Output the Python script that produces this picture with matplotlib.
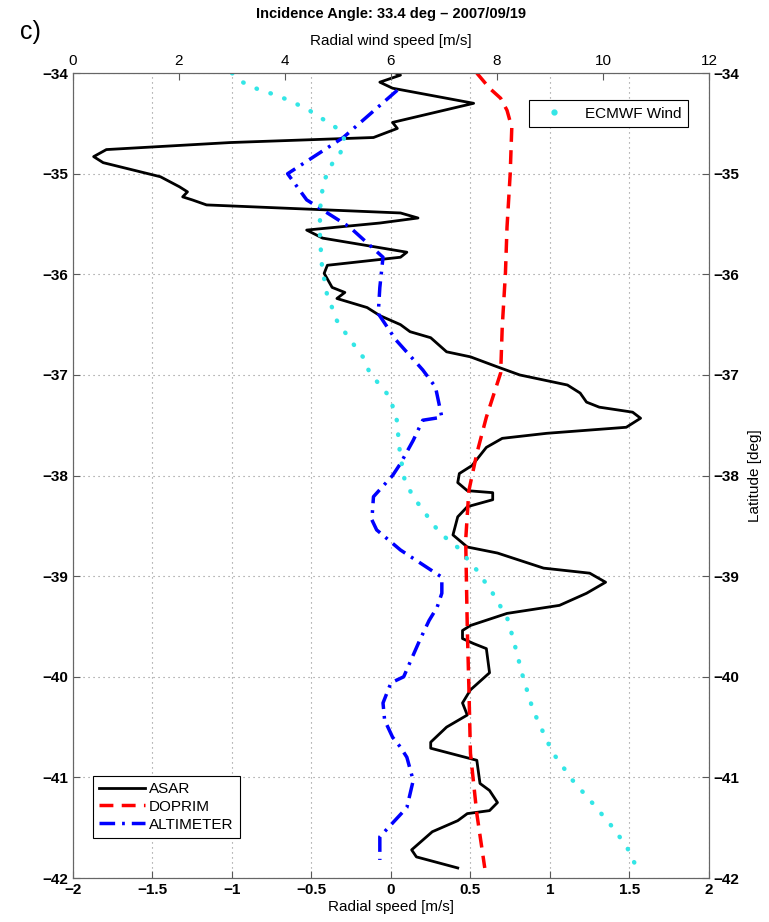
import numpy as np
import matplotlib
matplotlib.use('Agg')
import matplotlib.pyplot as plt
from matplotlib.lines import Line2D

plt.rcParams['font.family'] = ['Liberation Sans', 'DejaVu Sans']

# ASAR radial speed [m/s] vs latitude
asar_lat = [-34.00, -34.02, -34.09, -34.15, -34.30, -34.49, -34.55, -34.64, -34.69, -34.76,
            -34.83, -34.89, -35.03, -35.13, -35.18, -35.23, -35.26, -35.31, -35.39, -35.44,
            -35.49, -35.56, -35.64, -35.78, -35.83, -35.91, -35.99, -36.13, -36.18, -36.24,
            -36.33, -36.41, -36.50, -36.57, -36.63, -36.77, -36.82, -36.92, -37.00, -37.10,
            -37.18, -37.27, -37.32, -37.37, -37.43, -37.52, -37.58, -37.63, -37.72, -37.80,
            -37.90, -37.98, -38.07, -38.15, -38.17, -38.24, -38.31, -38.41, -38.59, -38.71,
            -38.77, -38.92, -38.97, -39.06, -39.17, -39.29, -39.37, -39.49, -39.54, -39.62,
            -39.67, -39.72, -39.96, -40.13, -40.26, -40.38, -40.50, -40.65, -40.71, -40.83,
            -41.06, -41.13, -41.25, -41.33, -41.36, -41.43, -41.54, -41.72, -41.79, -41.90]
asar_val = [0.03, 0.06, -0.07, 0.01, 0.52, 0.01, 0.04, -0.11, -1.01, -1.79,
            -1.87, -1.81, -1.45, -1.33, -1.28, -1.31, -1.25, -1.16, 0.06, 0.17,
            -0.07, -0.53, -0.43, 0.10, 0.06, -0.40, -0.42, -0.37, -0.29, -0.34,
            -0.15, -0.07, 0.06, 0.12, 0.25, 0.35, 0.50, 0.67, 0.81, 1.11,
            1.19, 1.23, 1.31, 1.52, 1.57, 1.48, 0.98, 0.70, 0.60, 0.56,
            0.51, 0.43, 0.42, 0.48, 0.64, 0.64, 0.48, 0.42, 0.39, 0.48,
            0.67, 0.96, 1.25, 1.35, 1.23, 1.06, 0.73, 0.50, 0.45, 0.45,
            0.52, 0.60, 0.62, 0.50, 0.45, 0.48, 0.35, 0.25, 0.25, 0.54,
            0.56, 0.62, 0.67, 0.62, 0.48, 0.42, 0.26, 0.13, 0.16, 0.42]

# DOPRIM
dop_lat = [-34.00, -34.15, -34.25, -34.37, -34.54, -35.00, -35.53, -35.99, -36.52, -36.98,
           -37.42, -37.78, -38.15, -38.64, -39.51, -40.10, -40.76, -41.36, -41.90]
dop_val = [0.54, 0.62, 0.69, 0.73, 0.76, 0.75, 0.73, 0.72, 0.70, 0.69,
           0.60, 0.54, 0.49, 0.47, 0.48, 0.49, 0.50, 0.54, 0.59]

# ALTIMETER
alt_lat = [-34.17, -34.64, -35.00, -35.26, -35.53, -35.83, -36.13, -36.39, -36.65, -36.95,
           -37.12, -37.42, -37.45, -37.65, -37.88, -38.00, -38.21, -38.44, -38.54, -38.74,
           -39.01, -39.17, -39.31, -39.44, -39.64, -40.00, -40.06, -40.26, -40.43, -40.60,
           -40.70, -40.80, -41.03, -41.30, -41.59, -41.82]
alt_val = [0.04, -0.30, -0.65, -0.53, -0.26, -0.05, -0.07, -0.08, 0.03, 0.20,
           0.28, 0.32, 0.20, 0.14, 0.06, 0.01, -0.11, -0.12, -0.09, 0.06,
           0.32, 0.32, 0.29, 0.24, 0.18, 0.08, 0.00, -0.05, -0.04, 0.01,
           0.06, 0.10, 0.14, 0.10, -0.07, -0.07]

# ECMWF wind speed (top axis, 0-12 m/s)
ecm_lat = [-34.00, -34.09, -34.17, -34.22, -34.29, -34.36, -34.44, -34.50, -34.57, -34.67,
           -34.80, -34.89, -35.09, -35.19, -35.36, -35.63, -35.93, -36.19, -36.46, -36.65,
           -36.82, -36.98, -37.22, -37.45, -37.78, -38.05, -38.21, -38.37, -38.57, -38.71,
           -38.94, -39.17, -39.41, -39.61, -40.00, -40.33, -40.63, -40.76, -41.03, -41.26,
           -41.50, -41.69, -41.90]
ecm_val = [3.00, 3.20, 3.53, 3.85, 4.15, 4.43, 4.66, 4.85, 5.04, 5.13,
           5.04, 4.90, 4.72, 4.70, 4.66, 4.66, 4.70, 4.79, 4.98, 5.23,
           5.47, 5.60, 5.98, 6.11, 6.17, 6.26, 6.42, 6.64, 6.92, 7.25,
           7.62, 7.92, 8.19, 8.30, 8.49, 8.68, 8.94, 9.06, 9.43, 9.81,
           10.19, 10.45, 10.64]

fig = plt.figure(figsize=(7.69, 9.22), dpi=100)
ax = fig.add_axes([0.0949, 0.0477, 0.827, 0.873])

ax.plot(asar_val, asar_lat, color='black', lw=2, label='ASAR')
ax.plot(dop_val, dop_lat, color='red', lw=2.5, linestyle=(0, (4, 2.4)), label='DOPRIM')
ax.plot(alt_val, alt_lat, color='blue', lw=2.5, linestyle=(0, (4.5, 2, 0.8, 2)), label='ALTIMETER')

ax.set_xlim(-2, 2)
ax.set_ylim(-42, -34)
ax.set_xticks(np.arange(-2, 2.01, 0.5))
ax.set_xticklabels(['\u22122', '\u22121.5', '\u22121', '\u22120.5', '0', '0.5', '1', '1.5', '2'])
ax.set_yticks(np.arange(-42, -33.9, 1))
ax.grid(True, linestyle=(0, (1, 3.5)), color='0.55', lw=0.8)
ax.tick_params(axis='both', direction='in', length=5, width=0.8, color='0.35',
               labelsize=11, top=False, right=True, labelleft=True, labelright=True)
for lbl in ax.get_xticklabels() + ax.get_yticklabels():
    lbl.set_fontweight('bold')
for s in ax.spines.values():
    s.set_color('0.4')
ax.set_xlabel('Radial speed [m/s]', fontsize=11, labelpad=2)
ax.yaxis.set_label_position('right')
ax.set_ylabel('Latitude [deg]', fontsize=11, labelpad=6)

leg = ax.legend(loc='lower left', bbox_to_anchor=(0.031, 0.05), fontsize=11,
                fancybox=False, edgecolor='black', framealpha=1, borderpad=0.4,
                labelspacing=0.25, handlelength=3.0, handletextpad=0.3, borderaxespad=0)
leg.get_frame().set_linewidth(0.8)

ax2 = ax.twiny()
ax2.plot(ecm_val, ecm_lat, color='#33e6e6', lw=3.2, linestyle=(0, (0.1, 3.2)),
         dash_capstyle='round')
ax2.set_xlim(0, 12)
ax2.set_xticks(np.arange(0, 12.1, 2))
ax2.tick_params(axis='x', direction='in', length=5, width=0.8, color='0.35', labelsize=11)
for s in ax2.spines.values():
    s.set_color('0.4')
ax2.set_xlabel('Radial wind speed [m/s]', fontsize=11, labelpad=7)
proxy = Line2D([], [], color='#33e6e6', marker='o', markersize=3.5, linestyle='none')
leg2 = ax2.legend([proxy], ['ECMWF Wind'], loc='upper right', bbox_to_anchor=(0.967, 0.966),
                  fontsize=11, fancybox=False, edgecolor='black', framealpha=1,
                  borderpad=0.4, handlelength=2.5, handletextpad=0.8, borderaxespad=0)
leg2.get_frame().set_linewidth(0.8)

ax2.set_title('Incidence Angle: 33.4 deg \u2013 2007/09/19', fontsize=10.5,
              fontweight='bold', pad=40)
fig.text(0.026, 0.965, 'c)', fontsize=18, va='center', ha='left')

fig.savefig('out.png', dpi=100)
